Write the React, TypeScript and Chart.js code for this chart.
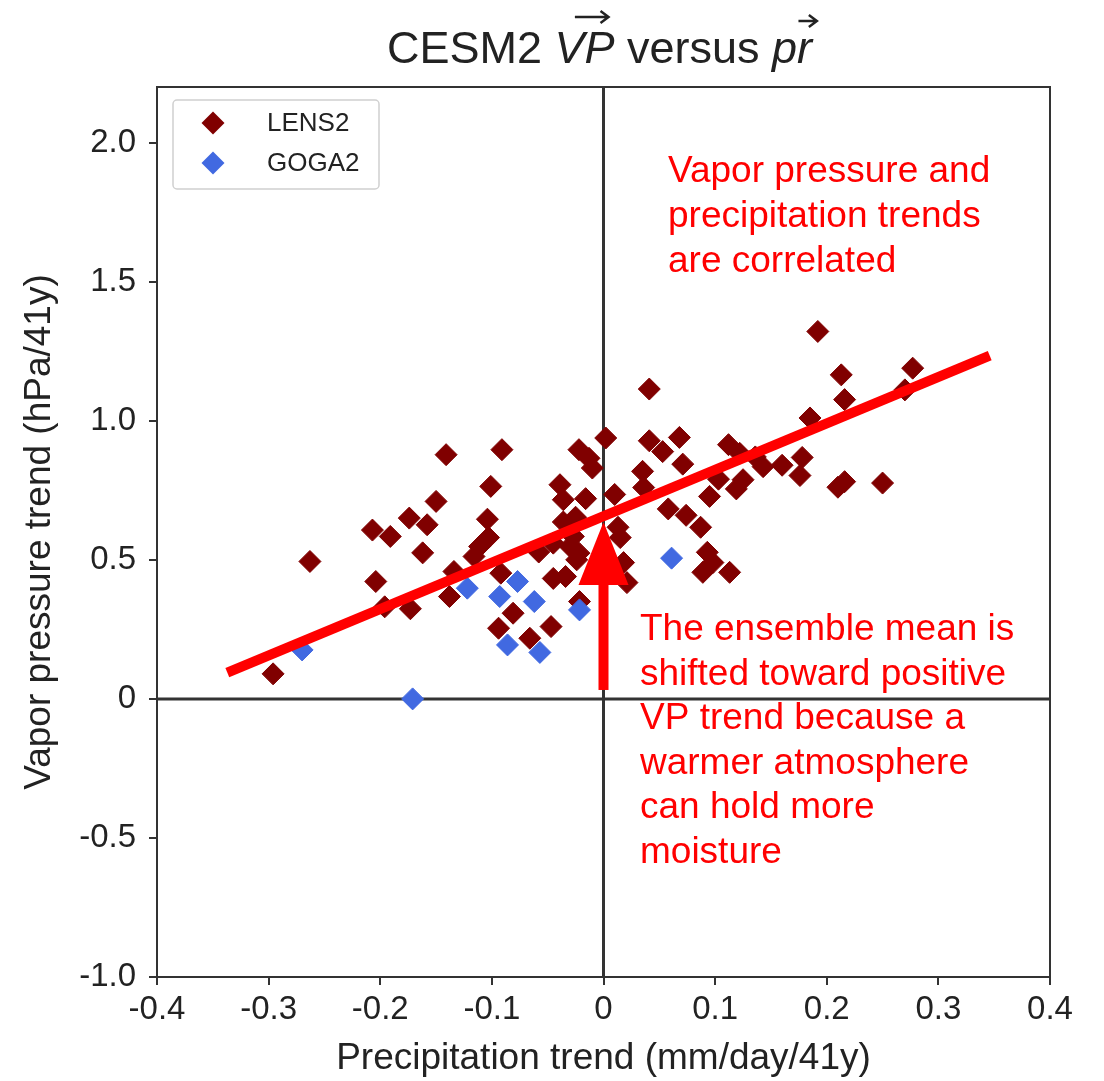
import React, { useEffect, useRef } from 'react';
import { Chart, registerables } from 'chart.js';
Chart.register(...registerables);

// ---- data ----
const lens2X = [
  -0.296, -0.263, -0.207, -0.204, -0.196, -0.191, -0.174, -0.173, -0.162, -0.158,
  -0.150, -0.141, -0.138, -0.134, -0.116, -0.111, -0.103, -0.104, -0.101, -0.091,
  -0.092, -0.081, -0.094, -0.066, -0.047, -0.058, -0.045, -0.045, -0.034, -0.0215,
  -0.039, -0.036, -0.022, -0.013, -0.010, 0.002, -0.016, -0.036, -0.025, -0.027,
  -0.030, -0.022, -0.024, 0.010, 0.013, 0.015, 0.018, 0.021, 0.041, 0.041,
  0.068, 0.053, 0.071, 0.035, 0.036, 0.058, 0.074, 0.087, 0.093, 0.089,
  0.113, 0.098, 0.103, 0.095, 0.119, 0.125, 0.112, 0.122, 0.136, 0.143,
  0.160, 0.178, 0.176, 0.185, 0.192, 0.213, 0.216, 0.277, 0.270, 0.210,
  0.216, 0.250
];
const lens2Y = [
  0.090, 0.494, 0.607, 0.422, 0.331, 0.584, 0.650, 0.324, 0.525, 0.626,
  0.710, 0.878, 0.368, 0.458, 0.512, 0.548, 0.580, 0.646, 0.764, 0.896,
  0.452, 0.308, 0.254, 0.218, 0.260, 0.528, 0.560, 0.433, 0.440, 0.350,
  0.770, 0.716, 0.896, 0.865, 0.830, 0.938, 0.720, 0.636, 0.653, 0.584,
  0.548, 0.524, 0.500, 0.735, 0.617, 0.580, 0.490, 0.418, 1.114, 0.928,
  0.940, 0.889, 0.844, 0.818, 0.760, 0.683, 0.660, 0.617, 0.527, 0.455,
  0.455, 0.490, 0.790, 0.728, 0.755, 0.788, 0.914, 0.883, 0.870, 0.835,
  0.840, 0.868, 0.803, 1.010, 1.321, 1.165, 1.076, 1.189, 1.111, 0.761,
  0.781, 0.776
];
const goga2X = [-0.270, -0.171, -0.122, -0.077, -0.093, -0.062, -0.0215, -0.086, -0.057, 0.061];
const goga2Y = [0.176, 0.000, 0.398, 0.422, 0.368, 0.350, 0.320, 0.194, 0.167, 0.506];
const trendX = [-0.337, 0.346];
const trendY = [0.094, 1.234];
const xTicks = [-0.4, -0.3, -0.2, -0.1, 0, 0.1, 0.2, 0.3, 0.4];
const yTicks = [-1.0, -0.5, 0, 0.5, 1.0, 1.5, 2.0];
const seriesNames = ['LENS2', 'GOGA2'];
const seriesColors = ['#800000', '#4169e1'];

const noteTop = ['Vapor pressure and', 'precipitation trends', 'are correlated'];
const noteBottom = [
  'The ensemble mean is',
  'shifted toward positive',
  'VP trend because a',
  'warmer atmosphere',
  'can hold more',
  'moisture',
];
// annotation anchors in data units
const noteTopAt = { x: 0.0578, y: 1.858 };
const noteBottomAt = { x: 0.0327, y: 0.212 };
const arrowAt = { x: 0, yStart: 0.032, yBase: 0.409, yTip: 0.636 };

const FONT = '"Liberation Sans", Arial, sans-serif';

const decorPlugin = {
  id: 'decor',
  beforeDatasetsDraw(chart: any) {
    const { ctx, chartArea: a, scales } = chart;
    const x0 = scales.x.getPixelForValue(0);
    const y0 = scales.y.getPixelForValue(0);
    ctx.save();
    ctx.strokeStyle = '#333';
    ctx.lineWidth = 3;
    ctx.beginPath();
    ctx.moveTo(x0, a.top);
    ctx.lineTo(x0, a.bottom);
    ctx.moveTo(a.left, y0);
    ctx.lineTo(a.right, y0);
    ctx.stroke();
    ctx.restore();
  },
  afterDatasetsDraw(chart: any) {
    const { ctx, chartArea: a, scales } = chart;
    const sx = scales.x, sy = scales.y;
    ctx.save();
    // arrow
    const ax = sx.getPixelForValue(arrowAt.x);
    const yS = sy.getPixelForValue(arrowAt.yStart);
    const yB = sy.getPixelForValue(arrowAt.yBase);
    const yT = sy.getPixelForValue(arrowAt.yTip);
    ctx.fillStyle = '#ff0000';
    ctx.fillRect(ax - 5, yB - 1, 10, yS - yB + 1);
    ctx.beginPath();
    ctx.moveTo(ax - 25, yB);
    ctx.lineTo(ax + 25, yB);
    ctx.lineTo(ax, yT);
    ctx.closePath();
    ctx.fill();

    // border
    ctx.strokeStyle = '#333';
    ctx.lineWidth = 2;
    ctx.strokeRect(a.left, a.top, a.right - a.left, a.bottom - a.top);

    // legend
    const lx = a.left + 16, ly = a.top + 13, lw = 206, lh = 89;
    ctx.fillStyle = 'rgba(255,255,255,0.85)';
    ctx.strokeStyle = '#d0d0d0';
    ctx.lineWidth = 1.5;
    ctx.beginPath();
    (ctx as any).roundRect(lx, ly, lw, lh, 4);
    ctx.fill();
    ctx.stroke();
    seriesNames.forEach((name, i) => {
      const cy = ly + 23 + i * 40;
      const cx = lx + 40;
      const r = 11.5;
      ctx.fillStyle = seriesColors[i];
      ctx.beginPath();
      ctx.moveTo(cx - r, cy);
      ctx.lineTo(cx, cy - r);
      ctx.lineTo(cx + r, cy);
      ctx.lineTo(cx, cy + r);
      ctx.closePath();
      ctx.fill();
      ctx.fillStyle = '#222';
      ctx.font = `26px ${FONT}`;
      ctx.textBaseline = 'middle';
      ctx.textAlign = 'left';
      ctx.fillText(name, lx + 94, cy + 1);
    });

    // notes
    ctx.fillStyle = '#ff0000';
    ctx.font = `37px ${FONT}`;
    ctx.textBaseline = 'alphabetic';
    ctx.textAlign = 'left';
    const tx = sx.getPixelForValue(noteTopAt.x);
    const ty = sy.getPixelForValue(noteTopAt.y);
    noteTop.forEach((t, i) => ctx.fillText(t, tx, ty + i * 45));
    const bx = sx.getPixelForValue(noteBottomAt.x);
    const by = sy.getPixelForValue(noteBottomAt.y);
    noteBottom.forEach((t, i) => ctx.fillText(t, bx, by + i * 44.6));
    ctx.restore();
  },
  afterDraw(chart: any) {
    const { ctx, chartArea: a } = chart;
    ctx.save();
    const parts = [
      { t: 'CESM2 ', it: false, arr: null as null | number[] },
      { t: 'VP', it: true, arr: [0.34, 0.9, -46] },
      { t: ' versus ', it: false, arr: null },
      { t: 'pr', it: true, arr: [0.66, 1.12, -42] },
    ];
    const size = 45;
    let total = 0;
    const widths = parts.map((p) => {
      ctx.font = `${p.it ? 'italic ' : ''}${size}px ${FONT}`;
      const w = ctx.measureText(p.t).width;
      total += w;
      return w;
    });
    const cx = (a.left + a.right) / 2 - 4;
    const base = a.top - 24;
    let x = cx - total / 2;
    ctx.fillStyle = '#222';
    ctx.strokeStyle = '#222';
    ctx.textBaseline = 'alphabetic';
    ctx.textAlign = 'left';
    parts.forEach((p, i) => {
      ctx.font = `${p.it ? 'italic ' : ''}${size}px ${FONT}`;
      ctx.fillText(p.t, x, base);
      if (p.arr) {
        const x1 = x + widths[i] * p.arr[0];
        const x2 = x + widths[i] * p.arr[1];
        const y = base + p.arr[2];
        ctx.lineWidth = 2.5;
        ctx.beginPath();
        ctx.moveTo(x1, y);
        ctx.lineTo(x2, y);
        ctx.moveTo(x2 - 8, y - 6);
        ctx.lineTo(x2, y);
        ctx.lineTo(x2 - 8, y + 6);
        ctx.stroke();
      }
      x += widths[i];
    });
    ctx.restore();
  },
};

export default function App() {
  const ref = useRef<HTMLCanvasElement | null>(null);
  useEffect(() => {
    if (!ref.current) return;
    const lens2 = lens2X.map((x, i) => ({ x, y: lens2Y[i] }));
    const goga2 = goga2X.map((x, i) => ({ x, y: goga2Y[i] }));
    const trend = trendX.map((x, i) => ({ x, y: trendY[i] }));
    const fmt = (v: number) => (v === 0 ? '0' : v.toFixed(1));
    const chart = new Chart(ref.current, {
      type: 'scatter',
      data: {
        datasets: [
          {
            label: 'trend',
            data: trend,
            showLine: true,
            borderColor: '#ff0000',
            backgroundColor: '#ff0000',
            borderWidth: 10,
            pointRadius: 0,
            borderCapStyle: 'butt',
            order: 0,
          } as any,
          {
            label: seriesNames[1],
            data: goga2,
            pointStyle: 'rectRot',
            pointRadius: 11,
            pointBorderWidth: 1,
            backgroundColor: seriesColors[1],
            borderColor: seriesColors[1],
            order: 1,
          },
          {
            label: seriesNames[0],
            data: lens2,
            pointStyle: 'rectRot',
            pointRadius: 11,
            pointBorderWidth: 1,
            backgroundColor: seriesColors[0],
            borderColor: seriesColors[0],
            order: 2,
          },
        ],
      },
      options: {
        animation: false,
        responsive: false,
        devicePixelRatio: 1,
        events: [],
        layout: { padding: { left: 0, top: 87, right: 54, bottom: 0 } },
        plugins: { legend: { display: false }, tooltip: { enabled: false }, title: { display: false } },
        scales: {
          x: {
            type: 'linear',
            min: -0.4,
            max: 0.4,
            afterBuildTicks: (s: any) => { s.ticks = xTicks.map((v) => ({ value: v })); },
            afterFit: (s: any) => { s.height = 104; },
            grid: { drawOnChartArea: false, drawTicks: true, tickLength: 8, color: '#333', lineWidth: 2 },
            border: { display: false },
            ticks: {
              callback: (v: any) => fmt(Number(v)),
              font: { family: FONT, size: 33 },
              color: '#222',
              padding: 5,
              maxRotation: 0,
              autoSkip: false,
            },
            title: {
              display: true,
              text: 'Precipitation trend (mm/day/41y)',
              font: { family: FONT, size: 37 },
              color: '#222',
              padding: { top: 0, bottom: 0 },
            },
          },
          y: {
            type: 'linear',
            min: -1.0,
            max: 2.2,
            afterBuildTicks: (s: any) => { s.ticks = yTicks.map((v) => ({ value: v })); },
            afterFit: (s: any) => { s.width = 157; },
            grid: { drawOnChartArea: false, drawTicks: true, tickLength: 8, color: '#333', lineWidth: 2 },
            border: { display: false },
            ticks: {
              callback: (v: any) => fmt(Number(v)),
              font: { family: FONT, size: 33 },
              color: '#222',
              padding: 13,
              autoSkip: false,
            },
            title: {
              display: true,
              text: 'Vapor pressure trend (hPa/41y)',
              font: { family: FONT, size: 37 },
              color: '#222',
              padding: { top: 18, bottom: 0 },
            },
          },
        },
      },
      plugins: [decorPlugin],
    } as any);
    return () => chart.destroy();
  }, []);
  return (
    <div style={{ position: 'absolute', left: 0, top: 0, width: 1104, height: 1081, background: '#fff' }}>
      <canvas ref={ref} width={1104} height={1081} style={{ display: 'block', width: 1104, height: 1081 }} />
    </div>
  );
}
